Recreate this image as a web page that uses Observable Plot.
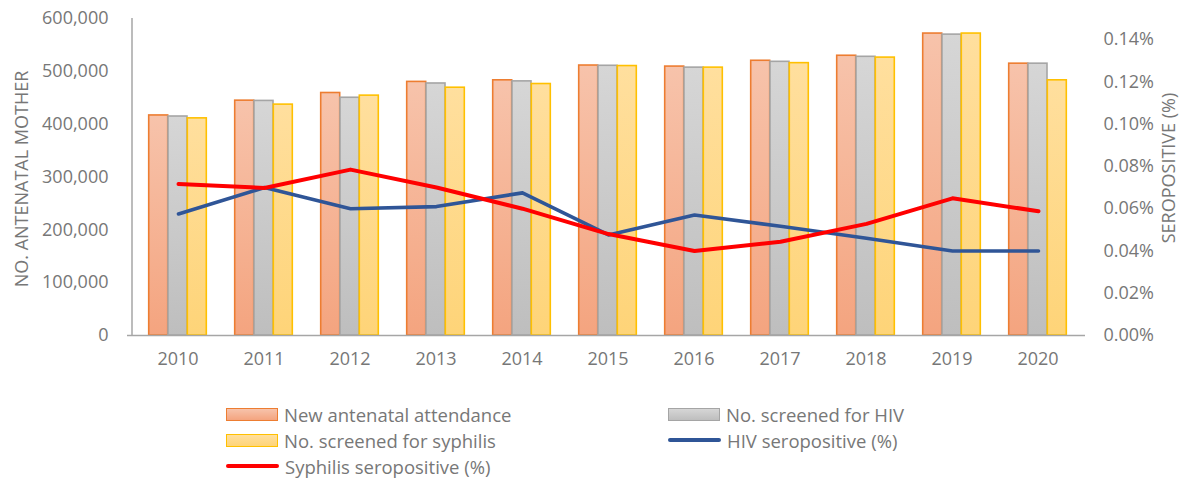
<!DOCTYPE html>
<html><head><meta charset="utf-8">
<script src="https://cdn.jsdelivr.net/npm/d3@7"></script>
<script src="https://cdn.jsdelivr.net/npm/@observablehq/plot@0.6"></script>
<style>
body{margin:0;background:#fff;font-family:"Open Sans",sans-serif;}
#wrap{position:relative;width:1197px;height:481px;overflow:hidden;}
#wrap svg{position:absolute;left:0;top:0;}
.ylab{position:absolute;color:#777;font-size:18px;white-space:nowrap;transform:translate(-50%,-50%) rotate(-90deg);}
.leg{position:absolute;display:flex;align-items:center;font-size:18.5px;color:#777;white-space:nowrap;height:26px;}
.sw{width:50px;height:11px;margin-right:6px;box-sizing:content-box;}
.ln{width:53px;height:4px;border-radius:2px;margin-right:6px;}
</style></head><body>
<div id="wrap"></div>
<script>
const years = ["2010","2011","2012","2013","2014","2015","2016","2017","2018","2019","2020"];
const attendance = [416500,444500,459000,480000,483000,511000,509000,520000,529500,571500,514500];
const screenedHIV = [414500,444000,450000,477000,481000,510500,507000,518000,527500,569500,514500];
const screenedSyph = [411000,437000,454000,469000,476000,510000,507000,515500,526000,571500,483000];
const hivPct = [0.0575,0.0700,0.0600,0.0610,0.0675,0.0476,0.0570,0.0517,0.0460,0.0400,0.0400];
const syphPct = [0.0717,0.0698,0.0785,0.0700,0.0600,0.0480,0.0400,0.0444,0.0528,0.0649,0.0588];
const leftTicks = [0,100000,200000,300000,400000,500000,600000];
const rightTicks = [0,0.02,0.04,0.06,0.08,0.10,0.12,0.14];
const seriesNames = ["New antenatal attendance","No. screened for HIV","No. screened for syphilis","HIV seropositive (%)","Syphilis seropositive (%)"];

const W = 1197, H = 375, ML = 132, MR = 114, MT = 18, MB = 40;
const txt = "#777";
const style = {fontFamily:"Open Sans, sans-serif", fontSize:"18px", color:txt, background:"transparent", overflow:"visible"};

const barData = (vals) => years.map((y,i)=>({year:y, value:vals[i]}));

const defs = () => {
  const d = d3.create("svg:defs");
  const mk = (id, top, bot) => {
    const g = d.append("linearGradient").attr("id", id).attr("x1",0).attr("y1",0).attr("x2",0).attr("y2",1);
    g.append("stop").attr("offset","0%").attr("stop-color",top);
    g.append("stop").attr("offset","100%").attr("stop-color",bot);
  };
  mk("gOrange","#F7C3AB","#F4A47F");
  mk("gGray","#D6D6D6","#BEBEBE");
  mk("gYellow","#FFDF9E","#FED478");
  return d.node();
};

const leftAxisLine = (index, scales, values, dims) => {
  const [y0, y1] = scales.scales.y.range;
  return d3.create("svg:line")
    .attr("x1", dims.marginLeft).attr("x2", dims.marginLeft)
    .attr("y1", y0).attr("y2", y1)
    .attr("stroke", "#a6a6a6").attr("stroke-width", 1.5).node();
};

const bw = 19.3;
const xOpts = {type:"band", domain:years, paddingInner:0.777, paddingOuter:0.3885};

const p1 = Plot.plot({
  width:W, height:H, marginLeft:ML, marginRight:MR, marginTop:MT, marginBottom:MB,
  style,
  x: xOpts,
  y: {domain:[0,600000]},
  marks: [
    defs,
    Plot.barY(barData(attendance), {x:"year", y:"value", dx:-bw, fill:"url(#gOrange)", stroke:"#ED7D31", strokeWidth:1.6}),
    Plot.barY(barData(screenedHIV), {x:"year", y:"value", fill:"url(#gGray)", stroke:"#A5A5A5", strokeWidth:1.6}),
    Plot.barY(barData(screenedSyph), {x:"year", y:"value", dx:bw, fill:"url(#gYellow)", stroke:"#FFC000", strokeWidth:1.6}),
    Plot.ruleY([0], {stroke:"#a6a6a6", strokeWidth:1.5, insetLeft:-5, insetRight:-2}),
    Plot.axisY({ticks:leftTicks, tickFormat:d3.format(","), tickSize:0, tickPadding:24, label:null}),
    Plot.axisX({tickSize:0, tickPadding:17, label:null})
  ]
});

const lineData = (vals) => years.map((y,i)=>({year:y, value:vals[i]}));
const p2 = Plot.plot({
  width:W, height:H, marginLeft:ML, marginRight:MR, marginTop:MT, marginBottom:MB,
  style,
  x: {type:"point", domain:years, padding:0.5, axis:null},
  y: {domain:[0,0.15], axis:null},
  marks: [
    leftAxisLine,
    Plot.lineY(lineData(hivPct), {x:"year", y:"value", stroke:"#2F5597", strokeWidth:3.6, strokeLinecap:"round", strokeLinejoin:"round"}),
    Plot.lineY(lineData(syphPct), {x:"year", y:"value", stroke:"#FF0000", strokeWidth:4, strokeLinecap:"round", strokeLinejoin:"round"}),
    Plot.axisY({anchor:"right", ticks:rightTicks, tickFormat:d=>d.toFixed(2)+"%", tickSize:0, tickPadding:20, label:null})
  ]
});

const wrap = document.getElementById("wrap");
wrap.appendChild(p1);
wrap.appendChild(p2);

const addLab = (text, x, y) => { const d = document.createElement("div"); d.className="ylab"; d.textContent=text; d.style.left=x+"px"; d.style.top=y+"px"; wrap.appendChild(d); };
addLab("NO. ANTENATAL MOTHER", 21, 179);
addLab("SEROPOSITIVE (%)", 1168, 168);

const legendItems = [
  {name:seriesNames[0], x:226, y:401, kind:"bar", fill:"linear-gradient(#F7C3AB,#F4A47F)", stroke:"#ED7D31"},
  {name:seriesNames[1], x:668, y:401, kind:"bar", fill:"linear-gradient(#D6D6D6,#BEBEBE)", stroke:"#A5A5A5"},
  {name:seriesNames[2], x:226, y:427, kind:"bar", fill:"linear-gradient(#FFDF9E,#FED478)", stroke:"#FFC000"},
  {name:seriesNames[3], x:668, y:427, kind:"line", stroke:"#2F5597"},
  {name:seriesNames[4], x:226, y:453, kind:"line", stroke:"#FF0000"}
];
for (const it of legendItems) {
  const d = document.createElement("div"); d.className="leg"; d.style.left=it.x+"px"; d.style.top=it.y+"px";
  const s = document.createElement("div");
  if (it.kind==="bar") { s.className="sw"; s.style.background=it.fill; s.style.border="1.5px solid "+it.stroke; }
  else { s.className="ln"; s.style.background=it.stroke; }
  d.appendChild(s);
  const t = document.createElement("span"); t.textContent=it.name; d.appendChild(t);
  wrap.appendChild(d);
}
</script>
</body></html>
